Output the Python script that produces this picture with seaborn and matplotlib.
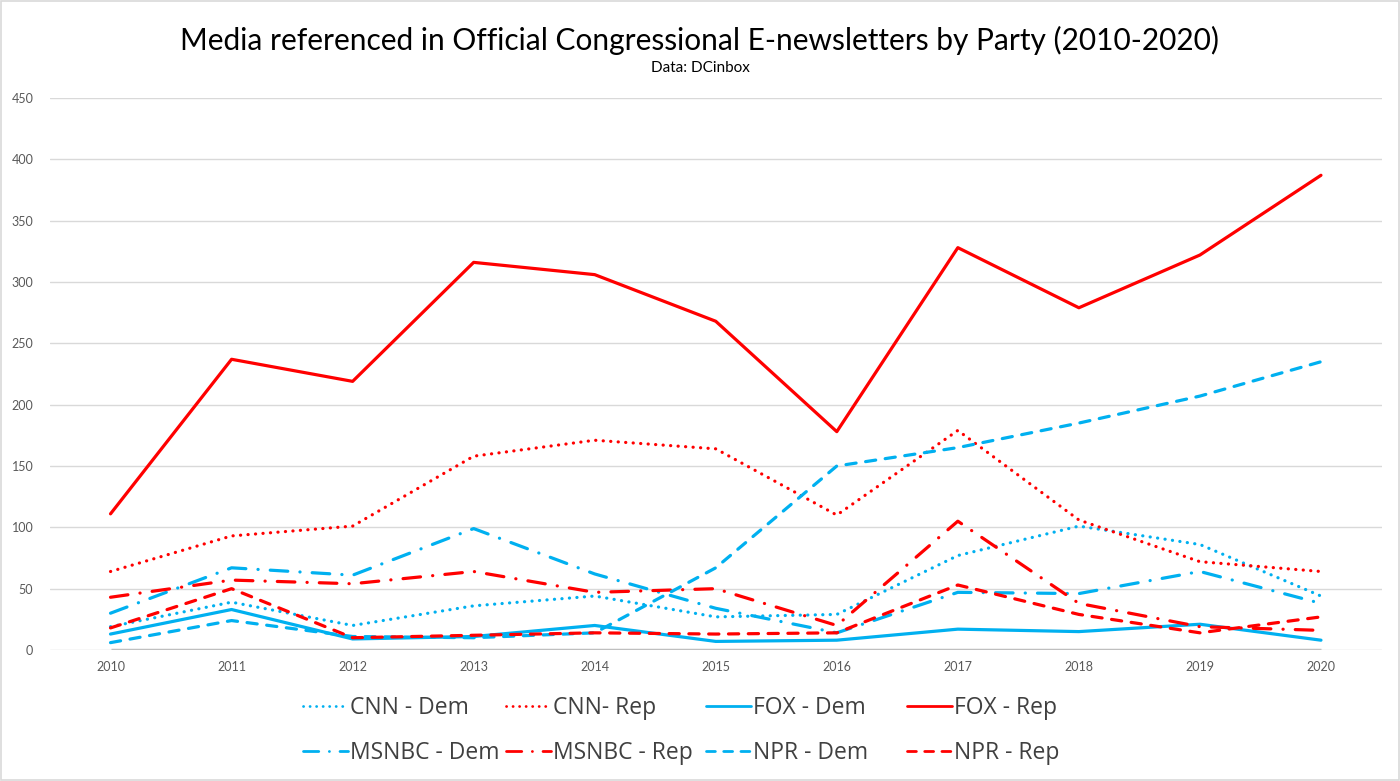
import matplotlib
matplotlib.use("Agg")
import matplotlib.pyplot as plt
from matplotlib.lines import Line2D
from matplotlib.patches import Rectangle
import seaborn as sns
import pandas as pd

years = [2010, 2011, 2012, 2013, 2014, 2015, 2016, 2017, 2018, 2019, 2020]
cnn_dem = [19, 39, 20, 36, 44, 27, 29, 77, 101, 86, 44]
cnn_rep = [64, 93, 101, 158, 171, 164, 110, 179, 106, 72, 64]
fox_dem = [13, 33, 9, 11, 20, 7, 8, 17, 15, 21, 8]
fox_rep = [111, 237, 219, 316, 306, 268, 178, 328, 279, 322, 387]
msnbc_dem = [30, 67, 61, 99, 62, 34, 14, 47, 46, 64, 38]
msnbc_rep = [43, 57, 54, 64, 47, 50, 20, 105, 38, 19, 16]
npr_dem = [6, 24, 11, 10, 14, 67, 150, 165, 185, 207, 235]
npr_rep = [18, 50, 10, 12, 14, 13, 14, 53, 29, 14, 27]

series_names = ["CNN - Dem", "CNN- Rep", "FOX - Dem", "FOX - Rep",
                "MSNBC - Dem", "MSNBC - Rep", "NPR - Dem", "NPR - Rep"]
series_vals = [cnn_dem, cnn_rep, fox_dem, fox_rep, msnbc_dem, msnbc_rep, npr_dem, npr_rep]

BLUE = "#00B0F0"
RED = "#FF0000"
colors = {n: (BLUE if "Dem" in n else RED) for n in series_names}
dot = (0.05, 2.3)
dashdot = (5.5, 3.8, 0.05, 3.8)
dash = (3.2, 3.0)
styles = {"CNN - Dem": dot, "CNN- Rep": dot, "FOX - Dem": "", "FOX - Rep": "",
          "MSNBC - Dem": dashdot, "MSNBC - Rep": dashdot, "NPR - Dem": dash, "NPR - Rep": dash}

rows = []
for n, vals in zip(series_names, series_vals):
    for y, v in zip(years, vals):
        rows.append({"year": y, "value": v, "series": n})
df = pd.DataFrame(rows)

sns.set_theme(style="white")
plt.rcParams['font.family'] = ['Lato', 'DejaVu Sans']

fig = plt.figure(figsize=(14, 7.81), dpi=100)
ax = fig.add_axes([50/1400, 1-650/781, 1331.5/1400, 552/781])

for y in range(50, 451, 50):
    ax.axhline(y, color="#D9D9D9", lw=1.0, zorder=0)
ax.axhline(0, color="#D9D9D9", lw=1.0, zorder=0)
ax.plot([2010, 2020], [0, 0], color="#BFBFBF", lw=2.5, zorder=1, solid_capstyle="butt")

sns.lineplot(data=df, x="year", y="value", hue="series", style="series",
             palette=colors, dashes=styles, hue_order=series_names, style_order=series_names,
             linewidth=2.3, legend=False, ax=ax, zorder=3)
for line in ax.get_lines()[2:]:
    line.set_dash_capstyle("round")

ax.set_xlim(2009.5, 2020.5)
ax.set_ylim(0, 450)
ax.set_xticks(years)
ax.set_xticklabels([str(y) for y in years], fontsize=9, color="#595959")
ax.set_yticks(range(0, 451, 50))
ax.set_yticklabels([str(v) for v in range(0, 451, 50)], fontsize=9, color="#595959")
ax.tick_params(axis="both", length=0)
ax.tick_params(axis="y", pad=12)
ax.tick_params(axis="x", pad=8)
for s in ax.spines.values():
    s.set_visible(False)
ax.set_xlabel("")
ax.set_ylabel("")

fig.text(0.5, 1-40/781, "Media referenced in Official Congressional E-newsletters by Party (2010-2020)",
         ha="center", va="center", fontsize=21.5, color="#000000")
fig.text(0.5, 1-68/781, "Data: DCinbox", ha="center", va="center", fontsize=11, color="#000000")

handles = {}
for n in series_names:
    st = styles[n]
    h = Line2D([0], [0], color=colors[n], lw=2.0)
    if st != "":
        h.set_dashes(st)
        h.set_dash_capstyle("round")
    handles[n] = h

columns = [["CNN - Dem", "MSNBC - Dem"], ["CNN- Rep", "MSNBC - Rep"],
           ["FOX - Dem", "NPR - Dem"], ["FOX - Rep", "NPR - Rep"]]
col_x = [303, 506, 706, 907]
legs = []
for cx, names in zip(col_x, columns):
    leg = fig.legend([handles[n] for n in names], names, loc="center left",
                     bbox_to_anchor=(cx/1400, 1-730.5/781), frameon=False,
                     prop={"family": ["Open Sans", "DejaVu Sans"], "size": 16.5},
                     handlelength=1.95, handletextpad=0.12, labelspacing=0.9,
                     borderpad=0, borderaxespad=0)
    for t in leg.get_texts():
        t.set_color("#404040")
    legs.append(leg)

fig.add_artist(Rectangle((0.001, 0.001), 0.998, 0.998, transform=fig.transFigure,
                         fill=False, edgecolor="#D9D9D9", lw=1.2))

fig.savefig("out.png", dpi=100)
